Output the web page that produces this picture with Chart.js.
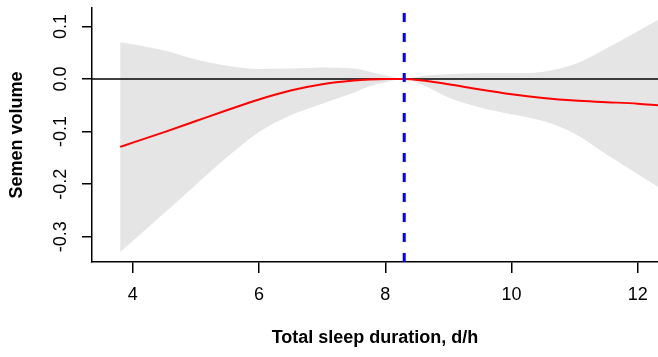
<!DOCTYPE html>
<html>
<head>
<meta charset="utf-8">
<script src="https://cdn.jsdelivr.net/npm/chart.js@4"></script>
<style>
  html, body { margin: 0; padding: 0; background: #fff; }
  #wrap { width: 658px; height: 357px; }
</style>
</head>
<body>
<div id="wrap"><canvas id="splineChart"></canvas></div>
<script>
// sleep duration (h) where the curve and band are read
const sleepHours = [3.8, 4.0, 4.5, 5.0, 5.5, 6.0, 6.5, 7.0, 7.5, 7.75, 8.0, 8.3, 8.6, 9.0, 9.5, 10.0, 10.5, 11.0, 11.5, 12.0, 12.32];
// fitted effect on semen volume
const fitValues = [-0.129, -0.121, -0.101, -0.080, -0.059, -0.039, -0.022, -0.010, -0.003, -0.001, 0.0, 0.0, -0.003, -0.010, -0.020, -0.029, -0.036, -0.041, -0.044, -0.047, -0.050];
// 95% CI
const upperCI = [0.070, 0.066, 0.054, 0.037, 0.025, 0.019, 0.020, 0.022, 0.020, 0.014, 0.007, 0.0, 0.006, 0.009, 0.011, 0.011, 0.014, 0.028, 0.058, 0.091, 0.112];
const lowerCI = [-0.329, -0.308, -0.255, -0.201, -0.148, -0.101, -0.069, -0.047, -0.026, -0.014, -0.006, 0.0, -0.012, -0.035, -0.054, -0.067, -0.080, -0.104, -0.143, -0.181, -0.205];

const refHours = 8.3; // reference value (dashed line)

const xTicks = [4, 6, 8, 10, 12];
const xTickLabels = ['4', '6', '8', '10', '12'];
const yTicks = [-0.3, -0.2, -0.1, 0.0, 0.1];
const yTickLabels = ['-0.3', '-0.2', '-0.1', '0.0', '0.1'];

const xMin = 3.354, xMax = 12.32;
const yMin = -0.348, yMax = 0.135;

const toPoints = (xs, ys) => xs.map((x, i) => ({ x: x, y: ys[i] }));

const FONT = "'Liberation Sans', Arial, Helvetica, sans-serif";

const ctx = document.getElementById('splineChart').getContext('2d');
new Chart(ctx, {
  type: 'line',
  data: {
    datasets: [
      {
        // reference line
        data: [{ x: refHours, y: yMin }, { x: refHours, y: yMax }],
        borderColor: '#0000ff',
        borderWidth: 3,
        borderDash: [9, 11],
        pointRadius: 0,
        fill: false
      },
      {
        data: toPoints(sleepHours, fitValues),
        borderColor: '#ff0000',
        borderWidth: 2,
        pointRadius: 0,
        cubicInterpolationMode: 'monotone',
        fill: false
      },
      {
        // zero line
        data: [{ x: xMin, y: 0 }, { x: xMax, y: 0 }],
        borderColor: '#000000',
        borderWidth: 1.5,
        pointRadius: 0,
        fill: false
      },
      {
        data: toPoints(sleepHours, upperCI),
        borderWidth: 0,
        borderColor: 'rgba(0,0,0,0)',
        backgroundColor: '#e5e5e5',
        pointRadius: 0,
        cubicInterpolationMode: 'monotone',
        fill: '+1'
      },
      {
        data: toPoints(sleepHours, lowerCI),
        borderWidth: 0,
        borderColor: 'rgba(0,0,0,0)',
        pointRadius: 0,
        cubicInterpolationMode: 'monotone',
        fill: false
      }
    ]
  },
  options: {
    responsive: true,
    maintainAspectRatio: false,
    animation: false,
    devicePixelRatio: 1,
    layout: { padding: { top: 8, right: 0, left: 0, bottom: 0 } },
    plugins: {
      legend: { display: false },
      tooltip: { enabled: false }
    },
    scales: {
      x: {
        type: 'linear',
        min: xMin,
        max: xMax,
        afterBuildTicks: scale => { scale.ticks = xTicks.map(v => ({ value: v })); },
        afterFit: scale => {
          scale.height = 95;
          scale.paddingLeft = 0;
          scale.paddingRight = 0;
        },
        grid: { drawOnChartArea: false, drawTicks: true, tickLength: 11, color: '#000', lineWidth: 1.5 },
        border: { display: true, color: '#000', width: 1.5 },
        ticks: {
          color: '#000',
          padding: 11,
          maxRotation: 0,
          font: { family: FONT, size: 18 },
          callback: (v, i) => xTickLabels[i]
        },
        title: {
          display: true,
          text: 'Total sleep duration, d/h',
          color: '#000',
          font: { family: FONT, size: 18, weight: 'bold' },
          padding: { top: 0, bottom: 8 }
        }
      },
      y: {
        type: 'linear',
        min: yMin,
        max: yMax,
        afterBuildTicks: scale => { scale.ticks = yTicks.map(v => ({ value: v })); },
        afterFit: scale => {
          scale.width = 92;
          scale.paddingTop = 0;
          scale.paddingBottom = 0;
        },
        grid: { drawOnChartArea: false, drawTicks: true, tickLength: 10, color: '#000', lineWidth: 1.5 },
        border: { display: true, color: '#000', width: 1.5 },
        ticks: {
          color: '#000',
          padding: 5.5,
          minRotation: 90,
          maxRotation: 90,
          crossAlign: 'center',
          font: { family: FONT, size: 18 },
          callback: (v, i) => yTickLabels[i]
        },
        title: {
          display: true,
          text: 'Semen volume',
          color: '#000',
          font: { family: FONT, size: 18, weight: 'bold' },
          padding: { top: 6, bottom: 0 }
        }
      }
    }
  }
});
</script>
</body>
</html>
